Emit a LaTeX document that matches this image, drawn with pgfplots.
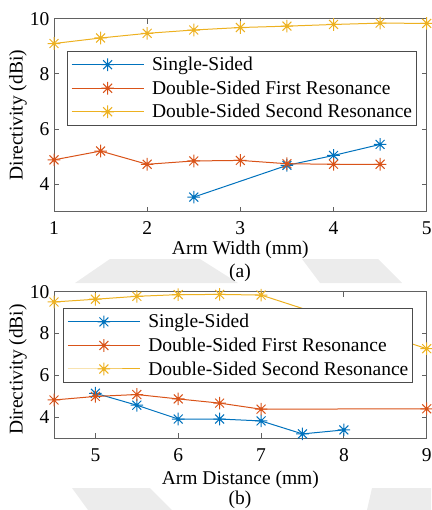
\documentclass[border=0pt]{standalone}
\usepackage{fontspec}
\setmainfont{Liberation Serif}
\newfontfamily\timesfont{Liberation Serif}
\usepackage{pgfplots}
\usepackage{pgfplotstable}
\pgfplotsset{compat=1.18}

\definecolor{mblue}{rgb}{0,0.447,0.741}
\definecolor{morange}{rgb}{0.85,0.325,0.098}
\definecolor{myellow}{rgb}{0.929,0.694,0.125}
\definecolor{emblem}{gray}{0.925}

\newcommand\figfont{\timesfont\fontsize{19.5}{23}\selectfont}

% eight-spoke asterisk with a small centre dot
\pgfdeclareplotmark{spoke8}{%
  \pgfpathmoveto{\pgfqpoint{-\pgfplotmarksize}{0pt}}%
  \pgfpathlineto{\pgfqpoint{\pgfplotmarksize}{0pt}}%
  \pgfpathmoveto{\pgfqpoint{0pt}{-\pgfplotmarksize}}%
  \pgfpathlineto{\pgfqpoint{0pt}{\pgfplotmarksize}}%
  \pgfpathmoveto{\pgfqpoint{-0.707\pgfplotmarksize}{-0.707\pgfplotmarksize}}%
  \pgfpathlineto{\pgfqpoint{0.707\pgfplotmarksize}{0.707\pgfplotmarksize}}%
  \pgfpathmoveto{\pgfqpoint{-0.707\pgfplotmarksize}{0.707\pgfplotmarksize}}%
  \pgfpathlineto{\pgfqpoint{0.707\pgfplotmarksize}{-0.707\pgfplotmarksize}}%
  \pgfusepathqstroke
  \pgfpathcircle{\pgfpointorigin}{0.28\pgfplotmarksize}%
  \pgfusepathqfill
}

% arm width sweep
\pgfplotstableread{
x y
2.5 3.53
3.5 4.68
4.0 5.04
4.5 5.44
}\widthSingle
\pgfplotstableread{
x y
1.0 4.88
1.5 5.20
2.0 4.72
2.5 4.84
3.0 4.86
3.5 4.74
4.0 4.72
4.5 4.72
}\widthFirst
\pgfplotstableread{
x y
1.0 9.10
1.5 9.30
2.0 9.47
2.5 9.59
3.0 9.68
3.5 9.73
4.0 9.79
4.5 9.84
5.0 9.83
}\widthSecond

% arm distance sweep
\pgfplotstableread{
x y
5.0 5.15
5.5 4.58
6.0 3.92
6.5 3.92
7.0 3.83
7.5 3.21
8.0 3.40
}\distSingle
\pgfplotstableread{
x y
4.5 4.83
5.0 5.00
5.5 5.09
6.0 4.88
6.5 4.68
7.0 4.39
9.0 4.41
}\distFirst
\pgfplotstableread{
x y
4.5 9.51
5.0 9.64
5.5 9.78
6.0 9.86
6.5 9.87
7.0 9.84
9.0 7.28
}\distSecond

\pgfplotsset{
  dirplot/.style={
    scale only axis,
    width=372.7pt,
    font=\figfont,
    /pgf/number format/assume math mode=true,
    axis line style={black!62, line width=0.9pt},
    every tick/.style={black!62, line width=0.9pt},
    tick align=inside,
    major tick length=5pt,
    ymin=3, ymax=10, ytick={4,6,8,10},
    ylabel={Directivity (dBi)},
    ylabel style={anchor=center},
    yticklabel style={xshift=-1pt},
    xticklabel style={yshift=-6.5pt},
    every axis plot/.append style={line width=1pt, mark=spoke8, mark size=6.3pt},
    legend cell align=left,
    legend style={draw=black!70, line width=0.9pt, fill=white,
      font=\figfont, inner xsep=2pt, inner ysep=4pt, row sep=4.5pt},
    legend image code/.code={%
      \path (-2pt,0pt) (78pt,0pt);
      \draw[mark repeat=2, mark phase=2]
        plot coordinates {(0pt,0pt) (36pt,0pt) (72pt,0pt)};},
  },
}

\begin{document}
\begin{tikzpicture}
\useasboundingbox (0,0) rectangle (431pt,-510pt);

% faint emblem pieces in the gaps between the two panels
\fill[emblem] (110pt,-259pt) -- (200pt,-259pt) -- (238pt,-283pt) -- (75pt,-283pt) -- cycle;
\fill[emblem] (302pt,-259pt) -- (378pt,-259pt) -- (402pt,-283pt) -- (320pt,-283pt) -- cycle;
\fill[emblem] (72pt,-488pt) -- (150pt,-488pt) -- (172pt,-510pt) -- (88pt,-510pt) -- cycle;
\fill[emblem] (372pt,-488pt) -- (431pt,-488pt) -- (431pt,-510pt) -- (367pt,-510pt) -- cycle;

% (a) directivity versus arm width
\begin{axis}[dirplot,
  at={(54pt,-18.7pt)}, anchor=north west,
  height=193pt,
  xmin=1, xmax=5, xtick={1,2,3,4,5},
  xlabel={Arm Width (mm)},
  xlabel style={at={(axis description cs:0.5,-0.2)}, anchor=center},
  ylabel style={at={(axis description cs:-0.097,0.5)}},
  legend style={at={(rel axis cs:0.034,0.834)}, anchor=north west},
]
\addplot[color=mblue]   table {\widthSingle};
\addplot[color=morange] table {\widthFirst};
\addplot[color=myellow] table {\widthSecond};
\legend{Single-Sided, Double-Sided First Resonance, Double-Sided Second Resonance}
\end{axis}
\node[font=\figfont] at (240pt,-273pt) {(a)};

% (b) directivity versus arm distance
\begin{axis}[dirplot,
  at={(54pt,-291.7pt)}, anchor=north west,
  height=146.6pt,
  xmin=4.5, xmax=9, xtick={5,6,7,8,9},
  xlabel={Arm Distance (mm)},
  xlabel style={at={(axis description cs:0.5,-0.285)}, anchor=center},
  ylabel style={at={(axis description cs:-0.097,0.47)}},
  legend style={at={(rel axis cs:0.024,0.889)}, anchor=north west},
]
\addplot[color=mblue]   table {\distSingle};
\addplot[color=morange] table {\distFirst};
\addplot[color=myellow] table {\distSecond};
\legend{Single-Sided, Double-Sided First Resonance, Double-Sided Second Resonance}
\end{axis}
\node[font=\figfont] at (240pt,-500pt) {(b)};
\end{tikzpicture}
\end{document}
